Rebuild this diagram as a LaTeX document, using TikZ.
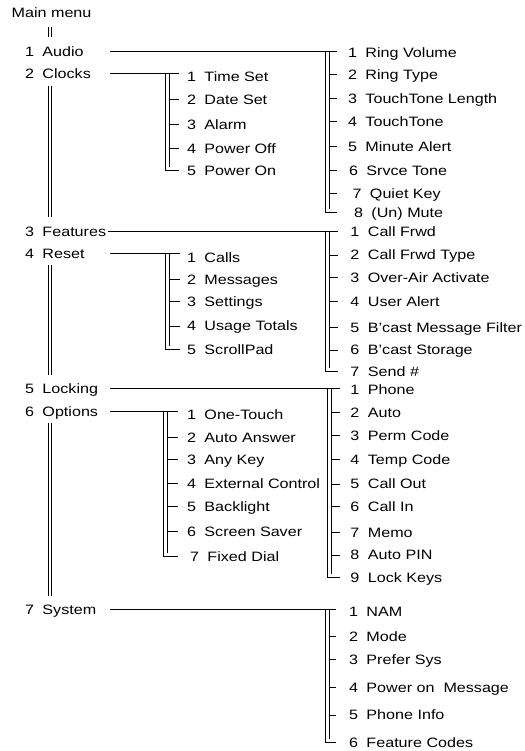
\documentclass[tikz,border=0pt]{standalone}
\usepackage{fontspec}
\setmainfont[FakeStretch=1.185]{Liberation Sans}
\usetikzlibrary{calc}
\newcommand\itemfont{\fontsize{13.6pt}{16pt}\selectfont}
\newcommand\itm[5]{\node[itm] (#1) at (#2,#3) {\makebox[17.5pt][l]{#4}#5};}
\newcommand\brk[7]{%
  \coordinate (bl) at (#3,0); \coordinate (br) at (#4,0);
  \coordinate (be) at (#5,0); \coordinate (bs) at (#7,0);
  \draw[ln] (#1.west -| bs) -- (#1.west -| be);
  \draw[ln] (#1.west -| bl) -- (#2.west -| bl) -- (#2.west -| be);
  \draw[ln] (#1.west -| br) -- ($(#2.west -| br)+(0,-3.5)$);
  \foreach \n in {#6} {\draw[ln] (\n.west -| br) -- (\n.west -| be);}
}
\begin{document}
\begin{tikzpicture}[x=1pt,y=-1pt,
  itm/.style={anchor=west,inner sep=0pt,text height=9.6pt,text depth=0pt,font=\itemfont},
  ln/.style={line width=1pt}]
\useasboundingbox (0,0) rectangle (524,751);
% main menu
\node[itm] (mm) at (11.5,13) {Main menu};
\itm{a1}{24.8}{51.7}{1}{Audio}
\itm{a2}{24.8}{74}{2}{Clocks}
\itm{a3}{24.8}{231.7}{3}{Features}
\itm{a4}{24.8}{253.3}{4}{Reset}
\itm{a5}{24.8}{388.3}{5}{Locking}
\itm{a6}{24.8}{411.7}{6}{Options}
\itm{a7}{24.8}{609.3}{7}{System}
% clocks
\itm{cl1}{186.8}{76.7}{1}{Time Set}
\itm{cl2}{186.8}{100}{2}{Date Set}
\itm{cl3}{186.8}{124.3}{3}{Alarm}
\itm{cl4}{186.8}{148.3}{4}{Power Off}
\itm{cl5}{186.8}{170.7}{5}{Power On}
% reset
\itm{re1}{186.8}{257.3}{1}{Calls}
\itm{re2}{186.8}{279.3}{2}{Messages}
\itm{re3}{186.8}{301.7}{3}{Settings}
\itm{re4}{186.8}{326}{4}{Usage Totals}
\itm{re5}{186.8}{349.3}{5}{ScrollPad}
% options
\itm{op1}{186.8}{415}{1}{One-Touch}
\itm{op2}{186.8}{437.3}{2}{Auto Answer}
\itm{op3}{186.8}{459.3}{3}{Any Key}
\itm{op4}{186.8}{483.3}{4}{External Control}
\itm{op5}{186.8}{506.7}{5}{Backlight}
\itm{op6}{186.8}{531.7}{6}{Screen Saver}
\itm{op7}{189.8}{556.7}{7}{Fixed Dial}
% audio
\itm{au1}{347.8}{52.3}{1}{Ring Volume}
\itm{au2}{347.8}{75}{2}{Ring Type}
\itm{au3}{347.8}{98.3}{3}{TouchTone Length}
\itm{au4}{347.8}{121.7}{4}{TouchTone}
\itm{au5}{347.8}{146.7}{5}{Minute Alert}
\itm{au6}{348.8}{171}{6}{Srvce Tone}
\itm{au7}{352.3}{193.3}{7}{Quiet Key}
\itm{au8}{353.8}{212.7}{8}{(Un) Mute}
% features
\itm{fe1}{350.2}{231.7}{1}{Call Frwd}
\itm{fe2}{350.2}{255}{2}{Call Frwd Type}
\itm{fe3}{350.2}{277.3}{3}{Over-Air Activate}
\itm{fe4}{350.2}{301.7}{4}{User Alert}
\itm{fe5}{350.2}{327.3}{5}{B'cast Message Filter}
\itm{fe6}{350.2}{350}{6}{B'cast Storage}
\itm{fe7}{350.2}{371.7}{7}{Send \#}
% locking
\itm{lo1}{350.2}{389.3}{1}{Phone}
\itm{lo2}{350.2}{412.3}{2}{Auto}
\itm{lo3}{350.2}{435.3}{3}{Perm Code}
\itm{lo4}{350.2}{459.3}{4}{Temp Code}
\itm{lo5}{350.2}{484}{5}{Call Out}
\itm{lo6}{350.2}{506.7}{6}{Call In}
\itm{lo7}{350.2}{532.3}{7}{Memo}
\itm{lo8}{350.2}{555}{8}{Auto PIN}
\itm{lo9}{350.2}{577.3}{9}{Lock Keys}
% system
\itm{sy1}{348.8}{611.7}{1}{NAM}
\itm{sy2}{348.8}{636.7}{2}{Mode}
\itm{sy3}{348.8}{659.3}{3}{Prefer Sys}
\itm{sy4}{348.8}{687.3}{4}{Power on\ \ Message}
\itm{sy5}{348.8}{715}{5}{Phone Info}
\itm{sy6}{348.8}{742.7}{6}{Feature Codes}
% main column double line
\coordinate (c1) at (48.2,0);
\coordinate (c2) at (51.2,0);
\foreach \c in {c1,c2} {
  \draw[ln] ($(mm.south -| \c)+(0,9)$) -- ($(a1.north -| \c)+(0,-10)$);
  \draw[ln] ($(a2.south -| \c)+(0,7)$) -- ($(a3.north -| \c)+(0,-10)$);
  \draw[ln] ($(a4.south -| \c)+(0,7)$) -- ($(a5.north -| \c)+(0,-8.5)$);
  \draw[ln] ($(a6.south -| \c)+(0,6.5)$) -- ($(a7.north -| \c)+(0,-8.5)$);
}
% brackets
\brk{a1}{au8}{325}{329}{337}{au2,au3,au4,au5,au6,au7}{110}
\brk{a2}{cl5}{165}{169}{179}{cl2,cl3,cl4}{110}
\brk{a3}{fe7}{325.5}{329.5}{338}{fe2,fe3,fe4,fe5,fe6}{108}
\brk{a4}{re5}{165}{169}{180}{re2,re3,re4}{110}
\brk{a5}{lo9}{327}{331}{340}{lo2,lo3,lo4,lo5,lo6,lo7,lo8}{110}
\brk{a6}{op7}{163.5}{167.5}{178}{op2,op3,op4,op5,op6}{110}
\brk{a7}{sy6}{325}{329}{336}{sy2,sy3,sy4,sy5}{110}
\end{tikzpicture}
\end{document}
